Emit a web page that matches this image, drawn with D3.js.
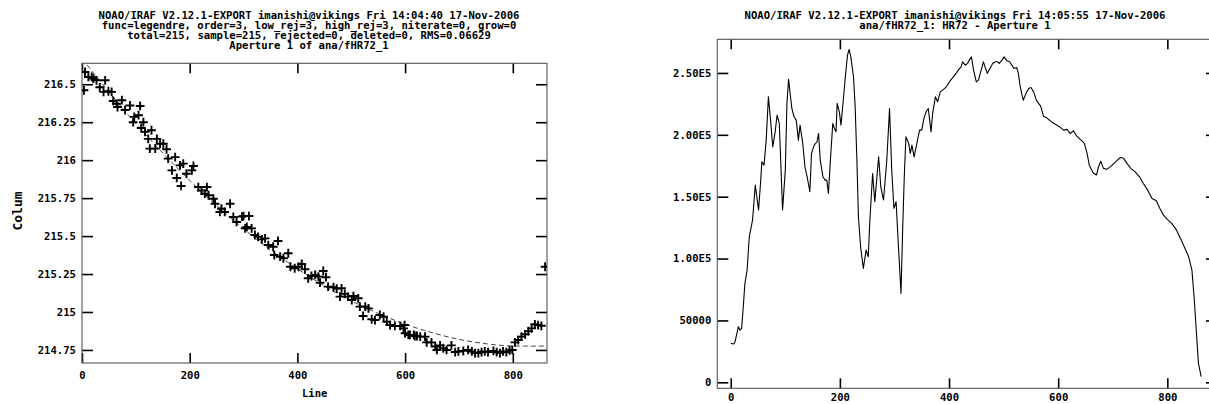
<!DOCTYPE html>
<html><head><meta charset="utf-8">
<script src="https://cdn.jsdelivr.net/npm/d3@7"></script>
<style>
body{margin:0;background:#fff}
svg{display:block}
text{font-family:"DejaVu Sans Mono","Liberation Mono",monospace;font-weight:bold;fill:#000;font-size:10.6px}
</style>
</head><body>
<svg id="c" width="1209" height="404"></svg>
<script>
// ---------- data ----------
const leftTitle = [
  "NOAO/IRAF V2.12.1-EXPORT imanishi@vikings Fri 14:04:40 17-Nov-2006",
  "func=legendre, order=3, low_rej=3, high_rej=3, niterate=0, grow=0",
  "total=215, sample=215, rejected=0, deleted=0, RMS=0.06629",
  "Aperture 1 of ana/fHR72_1"
];
const rightTitle = [
  "NOAO/IRAF V2.12.1-EXPORT imanishi@vikings Fri 14:05:55 17-Nov-2006",
  "ana/fHR72_1: HR72 - Aperture 1"
];
const leftXTicks = [0, 200, 400, 600, 800];
const leftYTicks = [214.75, 215, 215.25, 215.5, 215.75, 216, 216.25, 216.5];
const leftYLabels = ["214.75", "215", "215.25", "215.5", "215.75", "216", "216.25", "216.5"];
const rightXTicks = [0, 200, 400, 600, 800];
const rightYTicks = [0, 50000, 100000, 150000, 200000, 250000];
const rightYLabels = ["0", "50000", "1.00E5", "1.50E5", "2.00E5", "2.50E5"];

// fitted trace points (Line, Column)
const ptLines = [3.7,5.6,11.8,18,21,27,33,40,43,49,55,58,64,66,74,80,89,95,97,105,108,110,114,117,123,126,129,136,139,145,151,157,160,167,173,176,182,184,188,194,204,207,216,222,228,232,235,244,247,256,259,265,275,281,287,297,300,303,306,310,315,321,327,334,340,346,355,357,364,368,374,383,387,395,402,408,414,420,426,433,439,442,448,453,457,467,473,479,482,488,494,501,504,513,516,522,526,532,538,544,553,560,566,572,581,591,597,599,600,606,609,616,618,622,628,637,640,649,656,659,665,671,677,686,693,699,708,717,724,730,736,742,748,754,764,770,776,782,788,794,799,804,810,816,823,829,835,841,847,853,860];
const ptCols = [216.46,216.581,216.548,216.548,216.537,216.526,216.48,216.45,216.526,216.454,216.45,216.39,216.372,216.35,216.395,216.33,216.36,216.25,216.285,216.296,216.357,216.212,216.25,216.186,216.14,216.076,216.197,216.076,216.14,216.108,216.108,216.072,216.01,215.933,216.02,215.883,215.966,215.83,215.977,215.911,215.933,215.962,215.823,215.80,215.779,215.823,215.769,215.746,215.713,215.659,215.68,215.659,215.713,215.626,215.593,215.628,215.632,215.551,215.56,215.632,215.551,215.507,215.495,215.478,215.485,215.441,215.43,215.375,215.468,215.364,215.354,215.387,215.298,215.288,215.298,215.316,215.281,215.222,215.237,215.244,215.233,215.193,215.27,215.229,215.167,215.163,215.154,215.101,215.156,215.119,215.101,215.079,215.105,215.09,215.035,214.974,215.035,215.024,214.952,214.947,214.98,214.969,214.936,214.914,214.908,214.908,214.892,214.914,214.86,214.849,214.849,214.849,214.842,214.842,214.838,214.838,214.8,214.8,214.773,214.75,214.78,214.761,214.75,214.78,214.736,214.74,214.744,214.75,214.74,214.729,214.729,214.736,214.74,214.736,214.744,214.736,214.729,214.74,214.736,214.747,214.75,214.8,214.815,214.838,214.853,214.874,214.892,214.919,214.914,214.909,215.298];

// legendre fit
const fitLines = [0,50,100,150,200,250,300,350,400,450,500,550,600,650,700,750,800,850,864];
const fitCols = [216.67,216.449,216.241,216.047,215.867,215.70,215.548,215.409,215.284,215.172,215.074,214.990,214.920,214.864,214.820,214.791,214.776,214.775,214.776];

// extracted spectrum
const specLines = [0,5,8,14,17,20,23,26,30,34,37,40,45,51,55,57,61,65,69,73,77,81,85,89,95,100,103,106,112,116,120,124,127,132,136,140,145,148,153,158,161,164,169,173,176,179,183,187,190,193,195,199,202,206,210,214,217,220,225,228,231,234,238,243,248,252,255,260,264,271,275,280,286,291,295,299,303,307,312,315,318,321,326,329,332,336,341,346,350,354,358,362,367,370,375,379,384,390,395,399,403,408,413,417,422,425,430,434,437,441,445,450,454,458,463,466,470,475,480,485,489,492,497,501,506,511,515,519,524,527,530,533,536,541,546,550,555,560,564,568,573,578,584,590,598,604,610,616,622,628,634,642,648,653,657,664,670,674,678,683,689,697,705,714,720,726,733,741,749,756,764,772,780,786,793,800,808,816,824,831,839,845,849,853,857,862];
const specFlux = [31500,30900,32800,44900,42200,43600,61100,80000,90700,117600,124400,131100,159400,139200,163400,178200,175500,195700,230700,211900,190300,201100,215900,209200,139200,171500,225400,244800,221300,214600,211900,195700,207800,193100,174200,166100,154000,185000,191700,194400,201100,179600,166100,163400,163400,152700,182200,209200,205200,202400,225400,218600,207800,226700,246900,264400,269000,263000,246900,222600,182200,133800,109500,92100,106900,101500,131100,168800,145900,182200,158000,147300,179600,221300,171500,140600,145900,112300,71900,123000,166100,198400,193100,185000,191700,182200,193100,203800,203800,213300,218600,221300,202400,217300,230700,226700,234700,236700,238800,241500,244200,246900,249600,252300,254900,259000,256300,257700,260400,263000,252300,242800,244200,250900,259000,254900,249600,253600,257700,259000,259000,257700,260400,263000,259800,259000,256300,253600,254400,249600,240200,233500,228000,233500,237500,238300,234700,228000,225400,223200,215100,214100,211900,209700,207800,206000,203800,204400,201100,203200,199000,195700,193100,185000,175500,169300,167500,174200,178700,172900,172100,174700,178200,181700,181000,176900,172900,170100,166100,160700,155300,148600,146700,140600,135100,131700,128400,123600,116300,109500,101500,90700,69100,42200,15300,4500];

// ---------- drawing ----------
const svg = d3.select("#c");

function frame(id, x, y, xTicks, yTicks, yLabels, xPad) {
  const [xl, xr] = x.range();
  const [yb, yt] = y.range();
  const g = svg.append("g");
  svg.append("clipPath").attr("id", id)
    .append("rect").attr("x", xl).attr("y", yt).attr("width", xr - xl).attr("height", yb - yt);
  const axes = [
    g.append("g").attr("transform", `translate(0,${yb})`)
      .call(d3.axisBottom(x).tickValues(xTicks).tickSize(-10).tickPadding(xPad).tickFormat(d3.format("d"))),
    g.append("g").attr("transform", `translate(0,${yt})`)
      .call(d3.axisTop(x).tickValues(xTicks).tickSize(-10).tickFormat("")),
    g.append("g").attr("transform", `translate(${xl},0)`)
      .call(d3.axisLeft(y).tickValues(yTicks).tickSize(-11).tickPadding(6).tickFormat((d, i) => yLabels[i])),
    g.append("g").attr("transform", `translate(${xr},0)`)
      .call(d3.axisRight(y).tickValues(yTicks).tickSize(-11).tickFormat(""))
  ];
  axes.forEach(a => {
    a.select(".domain").remove();
    a.selectAll(".tick line").attr("stroke", "#000").attr("stroke-width", 1.6);
  });
  g.append("rect").attr("x", xl).attr("y", yt).attr("width", xr - xl).attr("height", yb - yt)
    .attr("fill", "none").attr("stroke", "#555").attr("stroke-width", 1.1);
  return g;
}

// left panel
const xL = d3.scaleLinear().domain([0, 863.5]).range([82, 547]);
const yL = d3.scaleLinear().domain([214.664, 216.638]).range([363, 63.3]);
frame("clipL", xL, yL, leftXTicks, leftYTicks, leftYLabels, 8);

const gL = svg.append("g").attr("clip-path", "url(#clipL)");
gL.append("path")
  .datum(fitLines.map((l, i) => [l, fitCols[i]]))
  .attr("fill", "none").attr("stroke", "#333").attr("stroke-width", 0.9)
  .attr("stroke-dasharray", "5,3")
  .attr("d", d3.line().x(d => xL(d[0])).y(d => yL(d[1])).curve(d3.curveMonotoneX));
gL.selectAll("path.pt")
  .data(ptLines.map((l, i) => [l, ptCols[i]]))
  .join("path").attr("class", "pt")
  .attr("transform", d => `translate(${xL(d[0])},${yL(d[1])})`)
  .attr("d", "M-4.4,0H4.4M0,-4.4V4.4")
  .attr("stroke", "#000").attr("stroke-width", 1.9).attr("fill", "none");

leftTitle.forEach((t, i) => {
  svg.append("text").attr("x", 309).attr("y", 18.5 + i * 10.3).attr("text-anchor", "middle").text(t);
});
svg.append("text").attr("x", xL(432)).attr("y", 397).attr("text-anchor", "middle").text("Line");
svg.append("text").attr("transform", "translate(22,211) rotate(-90)").attr("text-anchor", "middle")
  .style("font-size", "13px").text("Colum");

// right panel
const xR = d3.scaleLinear().domain([-24.6, 891]).range([717.3, 1217]);
const yR = d3.scaleLinear().domain([-4850, 277200]).range([388.3, 39.3]);
frame("clipR", xR, yR, rightXTicks, rightYTicks, rightYLabels, 5.5);

svg.append("g").attr("clip-path", "url(#clipR)")
  .append("path")
  .datum(specLines.map((l, i) => [l, specFlux[i]]))
  .attr("fill", "none").attr("stroke", "#000").attr("stroke-width", 1.1).attr("stroke-linejoin", "round")
  .attr("d", d3.line().x(d => xR(d[0])).y(d => yR(d[1])));

rightTitle.forEach((t, i) => {
  svg.append("text").attr("x", 955).attr("y", 18.5 + i * 10.3).attr("text-anchor", "middle").text(t);
});
</script>
</body></html>
